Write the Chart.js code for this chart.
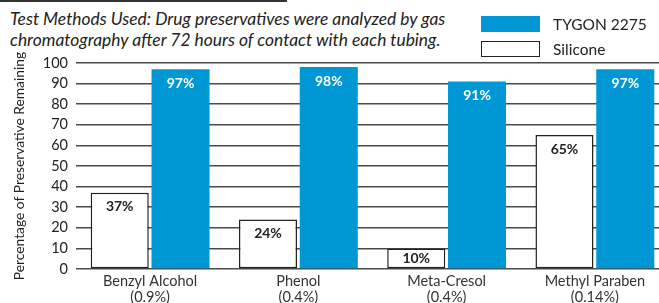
<!DOCTYPE html>
<html>
<head>
<meta charset="utf-8">
<script src="https://cdn.jsdelivr.net/npm/chart.js@4"></script>
<style>
  html, body { margin: 0; padding: 0; background: #fff; }
  body { width: 659px; height: 303px; overflow: hidden; position: relative; font-family: Lato, sans-serif; color: #222; }
  #rule { position: absolute; left: 0; top: 0; width: 287px; height: 2px; background: #333; }
  #note { position: absolute; left: 10px; top: 8px; font-style: italic; font-size: 17.4px; line-height: 21px; color: #222; white-space: nowrap; }
  #legend { position: absolute; left: 481px; top: 11px; z-index: 2; }
  .item { display: flex; align-items: center; height: 25px; font-size: 15.5px; }
  .box { width: 59px; height: 16px; box-sizing: border-box; margin-right: 13px; }
  #wrap { position: absolute; left: 0; top: 0; width: 672px; height: 303px; }
</style>
</head>
<body>
<div id="rule"></div>
<div id="note">Test Methods Used: Drug preservatives were analyzed by gas<br>chromatography after 72 hours of contact with each tubing.</div>
<div id="legend"></div>
<div id="wrap"><canvas id="chart"></canvas></div>
<script>
const categories = [["Benzyl Alcohol", "(0.9%)"], ["Phenol", "(0.4%)"], ["Meta-Cresol", "(0.4%)"], ["Methyl Paraben", "(0.14%)"]];
const siliconeValues = [37, 24, 10, 65];
const tygonValues = [97, 98, 91, 97];
const yTicks = [0, 10, 20, 30, 40, 50, 60, 70, 80, 90, 100];

const blue = '#0098d4';
const dark = '#222';

const datasets = [
  { label: 'Silicone', data: siliconeValues, backgroundColor: '#fff', borderColor: dark, borderWidth: 1.5, borderSkipped: false, labelColor: dark },
  { label: 'TYGON 2275', data: tygonValues, backgroundColor: blue, borderWidth: 0, labelColor: '#fff' }
];

// legend in the header, tygon first
const legend = document.getElementById('legend');
[datasets[1], datasets[0]].forEach(ds => {
  const row = document.createElement('div');
  row.className = 'item';
  const box = document.createElement('span');
  box.className = 'box';
  box.style.background = ds.backgroundColor;
  if (ds.borderWidth) box.style.border = '1.5px solid ' + ds.borderColor;
  row.appendChild(box);
  row.appendChild(document.createTextNode(ds.label));
  legend.appendChild(row);
});

const valueLabels = {
  id: 'valueLabels',
  afterDatasetsDraw(chart) {
    const ctx = chart.ctx;
    ctx.save();
    ctx.font = 'bold 14px Lato';
    ctx.textAlign = 'center';
    ctx.textBaseline = 'middle';
    chart.data.datasets.forEach((ds, i) => {
      chart.getDatasetMeta(i).data.forEach((bar, j) => {
        ctx.fillStyle = ds.labelColor;
        const y = Math.min(bar.y + 14, bar.base - 10);
        ctx.fillText(ds.data[j] + '%', bar.x, y);
      });
    });
    ctx.restore();
  }
};

new Chart(document.getElementById('chart'), {
  type: 'bar',
  data: { labels: categories, datasets: datasets },
  plugins: [valueLabels],
  options: {
    responsive: true,
    maintainAspectRatio: false,
    animation: false,
    layout: { padding: { top: 63, left: 0, right: 3, bottom: 0 } },
    plugins: { legend: { display: false }, tooltip: { enabled: false } },
    datasets: { bar: { categoryPercentage: 0.82, barPercentage: 0.955 } },
    scales: {
      x: {
        grid: { display: false, drawTicks: false },
        border: { display: false },
        ticks: { color: '#333', font: { family: 'Lato', size: 14.5, lineHeight: 1.12 }, padding: 4, maxRotation: 0 },
        afterFit: s => { s.height = 34; }
      },
      y: {
        min: 0,
        max: 100,
        afterBuildTicks: s => { s.ticks = yTicks.map(v => ({ value: v })); },
        grid: { color: '#4a4a4a', lineWidth: 1.5, drawTicks: false },
        border: { display: false },
        ticks: { color: dark, font: { family: 'Lato', size: 14.5 }, padding: 8 },
        title: { display: true, text: 'Percentage of Preservative Remaining', color: dark, font: { family: 'Lato', size: 13.8 }, padding: { top: 11, bottom: 0 } },
        afterFit: s => { s.width = 76; }
      }
    }
  }
});
</script>
</body>
</html>
